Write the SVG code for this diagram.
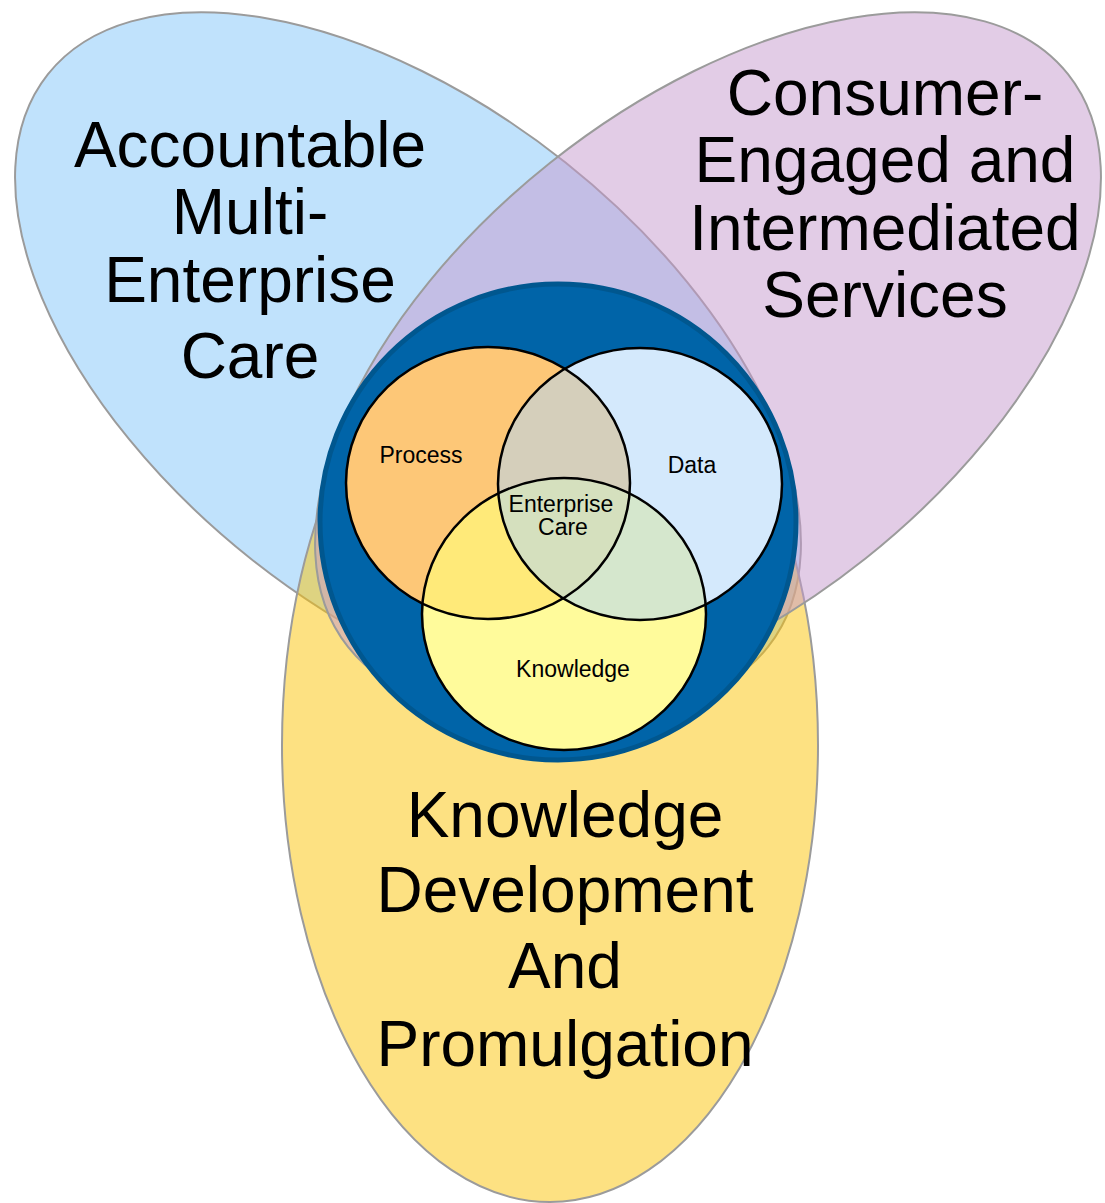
<svg xmlns="http://www.w3.org/2000/svg" width="1105" height="1203" viewBox="0 0 1105 1203">
<defs>
<style>
.outer{stroke:#9b9b9b;stroke-width:2;fill-opacity:0.5;}
.big{font-family:"Liberation Sans",Arial,sans-serif;font-size:64px;fill:#000;text-anchor:middle;}
.small{font-family:"Liberation Sans",Arial,sans-serif;font-size:23px;fill:#000;text-anchor:middle;}
.edge{stroke:#000;stroke-width:2.5;fill:none;}
</style>
<clipPath id="cP"><ellipse cx="488" cy="483" rx="142" ry="136"/></clipPath>
<clipPath id="cD"><ellipse cx="640" cy="484" rx="142" ry="136"/></clipPath>
</defs>
<rect width="1105" height="1203" fill="#fff"/>
<g id="accountable-care">
<ellipse class="outer" cx="408" cy="360.5" rx="460" ry="253" transform="rotate(38.5 408 360.5)" fill="#81C5F9"/>
<text class="big" x="250" y="167">Accountable</text>
<text class="big" x="250" y="234">Multi-</text>
<text class="big" x="250" y="302">Enterprise</text>
<text class="big" x="250" y="378">Care</text>
</g>
<g id="knowledge-development">
<ellipse class="outer" cx="550" cy="745" rx="268" ry="457" fill="#FBC305"/>
<text class="big" x="565" y="837">Knowledge</text>
<text class="big" x="565" y="912">Development</text>
<text class="big" x="565" y="988">And</text>
<text class="big" x="565" y="1066">Promulgation</text>
</g>
<g id="consumer-services">
<ellipse class="outer" cx="708" cy="360.5" rx="460" ry="253" transform="rotate(-38.5 708 360.5)" fill="#C599CD"/>
<text class="big" x="885" y="115">Consumer-</text>
<text class="big" x="885" y="182">Engaged and</text>
<text class="big" x="885" y="250">Intermediated</text>
<text class="big" x="885" y="317">Services</text>
</g>
<g id="enterprise-core">
<circle cx="558" cy="522" r="238" fill="#0064A8" stroke="#00578F" stroke-width="5"/>
</g>
<g id="process">
<ellipse cx="488" cy="483" rx="142" ry="136" fill="#FDC777"/>
<text class="small" x="421" y="463">Process</text>
</g>
<g id="data">
<ellipse cx="640" cy="484" rx="142" ry="136" fill="#D4E9FC"/>
<text class="small" x="692" y="473">Data</text>
</g>
<g id="knowledge">
<ellipse cx="564" cy="614" rx="142" ry="136" fill="#FFFB9B"/>
<text class="small" x="573" y="677">Knowledge</text>
</g>
<g id="overlaps">
<ellipse cx="640" cy="484" rx="142" ry="136" fill="#D5CFBB" clip-path="url(#cP)"/>
<ellipse cx="564" cy="614" rx="142" ry="136" fill="#FFEA79" clip-path="url(#cP)"/>
<ellipse cx="564" cy="614" rx="142" ry="136" fill="#D5E7CD" clip-path="url(#cD)"/>
<g clip-path="url(#cD)"><ellipse cx="564" cy="614" rx="142" ry="136" fill="#D5E0BE" clip-path="url(#cP)"/></g>
</g>
<g id="circle-edges">
<ellipse class="edge" cx="488" cy="483" rx="142" ry="136"/>
<ellipse class="edge" cx="640" cy="484" rx="142" ry="136"/>
<ellipse class="edge" cx="564" cy="614" rx="142" ry="136"/>
</g>
<g id="enterprise-care">
<text class="small" x="561" y="512">Enterprise</text>
<text class="small" x="563" y="535">Care</text>
</g>
</svg>
